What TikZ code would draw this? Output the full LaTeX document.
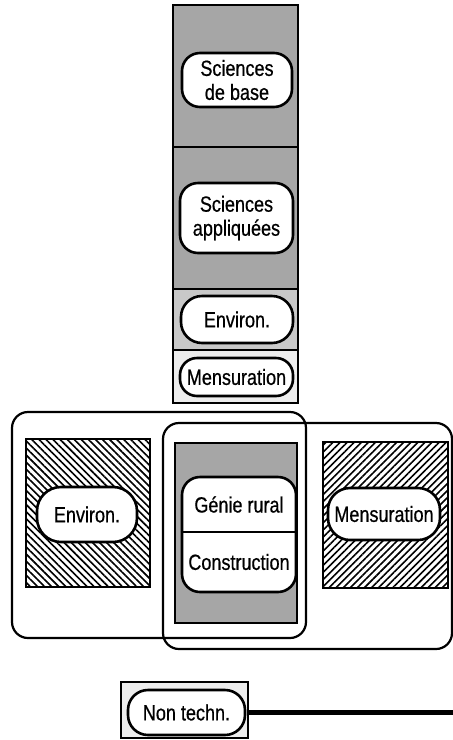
\documentclass[tikz,border=0pt]{standalone}
\usepackage{fontspec}
\setmainfont{Liberation Sans}[FakeStretch=0.82, FakeBold=0.6]
\usepackage{tikz}
\usetikzlibrary{patterns.meta, positioning}
\definecolor{dotdark}{HTML}{A6A6A6}
\definecolor{dotmid}{HTML}{C8C8C8}
\definecolor{dotlight}{HTML}{EDEDED}

\begin{document}
\begin{tikzpicture}[
    x=1pt, y=-1pt,
    every node/.style={font=\fontsize{22}{24}\selectfont},
    segment/.style={
        rectangle,
        draw=black,
        line width=2.5pt,
        minimum width=125pt,
        inner sep=0pt
    },
    pill/.style={
        rectangle,
        rounded corners=#1,
        draw=black,
        fill=white,
        line width=2.6pt,
        align=center,
        inner sep=0pt
    },
    pill/.default=18pt,
    panel/.style={
        rectangle,
        draw=black,
        line width=2.5pt,
        inner sep=0pt
    },
    bigframe/.style={
        rectangle,
        rounded corners=16pt,
        draw=black,
        line width=2.2pt,
        inner sep=0pt
    },
    backhatch/.style={pattern={Lines[angle=-45, distance=5pt, line width=1.6pt]}},
    slashhatch/.style={pattern={Lines[angle=45, distance=5pt, line width=1.6pt]}},
    thickline/.style={line width=5pt}
]
\useasboundingbox (0,0) rectangle (453,740);

% Top column
\node[segment, fill=dotdark, minimum height=142pt] (baseseg) at (235.5,76) {};
\node[segment, fill=dotdark, minimum height=142pt] (applseg) at (235.5,218) {};
\node[segment, fill=dotmid, minimum height=61pt] (envseg) at (235.5,319.5) {};
\node[segment, fill=dotlight, minimum height=53pt] (mensseg) at (235.5,376.5) {};

\node[pill, minimum width=110pt, minimum height=54pt] (basepill) at (237,80) {Sciences\\de base};
\node[pill, minimum width=113pt, minimum height=70pt] (applpill) at (236.5,218) {Sciences\\appliquées};
\node[pill=21pt, minimum width=112pt, minimum height=47pt] (envpill) at (237,319.5) {Environ.};
\node[pill=17pt, minimum width=113pt, minimum height=38pt] (menspill) at (236.5,377) {Mensuration};

% Overlapping frames
\node[bigframe, minimum width=294pt, minimum height=226pt] (leftframe) at (159,525) {};
\node[bigframe, minimum width=289pt, minimum height=226pt] (rightframe) at (307.5,536) {};

% Panels inside the frames
\node[panel, backhatch, minimum width=124pt, minimum height=148pt] (envpanel) at (88,513) {};
\node[panel, fill=dotdark, minimum width=122pt, minimum height=180pt] (geniepanel) at (236,533) {};
\node[panel, slashhatch, minimum width=125pt, minimum height=146pt] (menspanel) at (385.5,515) {};

\node[pill=24pt, minimum width=100pt, minimum height=55pt] (envbox) at (87,514.5) {Environ.};
\node[pill=22pt, minimum width=112pt, minimum height=52pt] (mensbox) at (384,514) {Mensuration};

\node[pill, minimum width=114pt, minimum height=115pt] (geniebox) at (239,534.5) {};
\node (genietext) at (239,504.5) {Génie rural};
\node (constext) at (239,562) {Construction};
\draw[line width=2pt] (geniebox.west |- 0,532) -- (geniebox.east |- 0,532);

% Non technical
\node[panel, fill=dotlight, minimum width=127pt, minimum height=56pt] (nonpanel) at (184.5,710) {};
\node[pill=20pt, minimum width=117pt, minimum height=45pt] (nonpill) at (186.5,712.5) {Non techn.};
\coordinate (lineend) at (453,712);
\draw[thickline] (nonpanel.east |- lineend) -- (lineend);

\end{tikzpicture}
\end{document}
